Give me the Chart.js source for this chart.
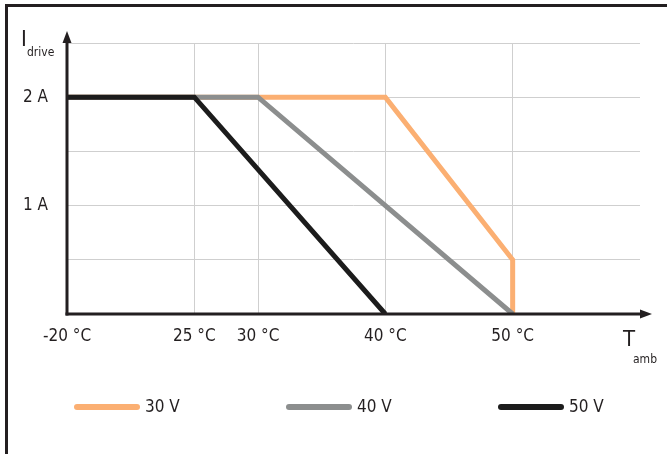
<!DOCTYPE html>
<html>
<head>
<meta charset="utf-8">
<script src="https://cdn.jsdelivr.net/npm/chart.js@4.4.1/dist/chart.umd.min.js"></script>
<style>
  html, body { margin: 0; padding: 0; background: #fff; }
  #frame {
    position: absolute; left: 5px; top: 4px; width: 662px; height: 450px;
    border-top: 3px solid #231f20; border-left: 3px solid #231f20;
  }
  #wrap { position: absolute; left: 0; top: 0; width: 667px; height: 454px; }
</style>
</head>
<body>
<div id="frame"></div>
<div id="wrap"><canvas id="derating"></canvas></div>
<script>
// temperatures in °C, currents in A
var temps30 = [-20, 40, 50, 50];
var amps30 = [2, 2, 0.5, 0];
var temps40 = [-20, 30, 50];
var amps40 = [2, 2, 0];
var temps50 = [-20, 25, 40];
var amps50 = [2, 2, 0];

var seriesLabels = ["30 V", "40 V", "50 V"];
var seriesColors = ["#fbaf72", "#8c8e8e", "#1c1c1c"];

var tickTemps = [-20, 25, 30, 40, 50];
var tickLabels = ["-20 °C", "25 °C", "30 °C", "40 °C", "50 °C"];
var ampTicks = { 1: "1 A", 2: "2 A" };

var FONT = "'Liberation Sans Narrow', 'DejaVu Sans Condensed', 'Roboto Condensed', sans-serif";
var INK = "#231f20";

// broken axis: -20..25 °C is squeezed into 10 units
function axisPos(t) {
  return t >= 25 ? t : 25 - (25 - t) * 10 / 45;
}

function toPoints(temps, amps) {
  return temps.map(function (t, i) { return { x: axisPos(t), y: amps[i] }; });
}

function lineSet(i, temps, amps, order) {
  return {
    label: seriesLabels[i],
    data: toPoints(temps, amps),
    borderColor: seriesColors[i],
    backgroundColor: seriesColors[i],
    borderWidth: 5,
    pointRadius: 0,
    borderJoinStyle: "miter",
    borderCapStyle: "butt",
    tension: 0,
    fill: false,
    order: order
  };
}

var decor = {
  id: "decor",
  afterDatasetsDraw: function (chart) {
    var ctx = chart.ctx;
    var a = chart.chartArea;
    ctx.save();
    ctx.strokeStyle = INK;
    ctx.fillStyle = INK;
    ctx.lineWidth = 3;
    // x axis + arrow
    ctx.beginPath();
    ctx.moveTo(a.left - 1.5, a.bottom);
    ctx.lineTo(a.right + 4, a.bottom);
    ctx.stroke();
    ctx.beginPath();
    ctx.moveTo(a.right + 12, a.bottom);
    ctx.lineTo(a.right, a.bottom - 4.5);
    ctx.lineTo(a.right, a.bottom + 4.5);
    ctx.closePath();
    ctx.fill();
    // y axis + arrow
    ctx.beginPath();
    ctx.moveTo(a.left, a.bottom + 1.5);
    ctx.lineTo(a.left, a.top - 2);
    ctx.stroke();
    ctx.beginPath();
    ctx.moveTo(a.left, a.top - 12);
    ctx.lineTo(a.left - 4.5, a.top);
    ctx.lineTo(a.left + 4.5, a.top);
    ctx.closePath();
    ctx.fill();

    // axis titles
    ctx.textBaseline = "alphabetic";
    ctx.textAlign = "left";
    ctx.font = "22px " + FONT;
    ctx.fillText("I", 21, 46);
    ctx.font = "12px " + FONT;
    ctx.fillText("drive", 27, 56);
    ctx.font = "22px " + FONT;
    ctx.fillText("T", 623, 346);
    ctx.font = "12px " + FONT;
    ctx.fillText("amb", 633, 363);

    // legend
    chart.data.datasets.forEach(function (ds, i) {
      var x0 = 74 + i * 212;
      var y0 = 407;
      ctx.strokeStyle = ds.borderColor;
      ctx.lineWidth = 6;
      ctx.lineCap = "round";
      ctx.beginPath();
      ctx.moveTo(x0 + 3, y0);
      ctx.lineTo(x0 + 63, y0);
      ctx.stroke();
      ctx.fillStyle = INK;
      ctx.font = "17px " + FONT;
      ctx.textBaseline = "middle";
      ctx.fillText(ds.label, x0 + 71, y0 + 1);
    });
    ctx.restore();
  }
};

new Chart(document.getElementById("derating"), {
  type: "line",
  data: {
    datasets: [
      lineSet(0, temps30, amps30, 3),
      lineSet(1, temps40, amps40, 2),
      lineSet(2, temps50, amps50, 1)
    ]
  },
  options: {
    responsive: true,
    maintainAspectRatio: false,
    animation: false,
    layout: {
      padding: { left: 0, top: 43, right: 27, bottom: 0 }
    },
    plugins: {
      legend: { display: false },
      tooltip: { enabled: false }
    },
    scales: {
      x: {
        type: "linear",
        min: axisPos(-20),
        max: 60,
        afterFit: function (s) { s.height = 140; },
        afterBuildTicks: function (s) {
          s.ticks = tickTemps.map(function (t) { return { value: axisPos(t) }; });
        },
        border: { display: false },
        grid: { color: "#cfcfcf", lineWidth: 1, drawTicks: false },
        ticks: {
          padding: 12,
          color: INK,
          font: { size: 17, family: FONT },
          maxRotation: 0,
          autoSkip: false,
          callback: function (v) {
            var i = tickTemps.map(axisPos).indexOf(v);
            return i >= 0 ? tickLabels[i] : "";
          }
        }
      },
      y: {
        min: 0,
        max: 2.5,
        afterFit: function (s) { s.width = 67; },
        border: { display: false },
        grid: { color: "#cfcfcf", lineWidth: 1, drawTicks: false },
        ticks: {
          stepSize: 0.5,
          padding: 19,
          color: INK,
          font: { size: 17, family: FONT },
          callback: function (v) { return ampTicks[v] || ""; }
        }
      }
    }
  },
  plugins: [decor]
});
</script>
</body>
</html>
